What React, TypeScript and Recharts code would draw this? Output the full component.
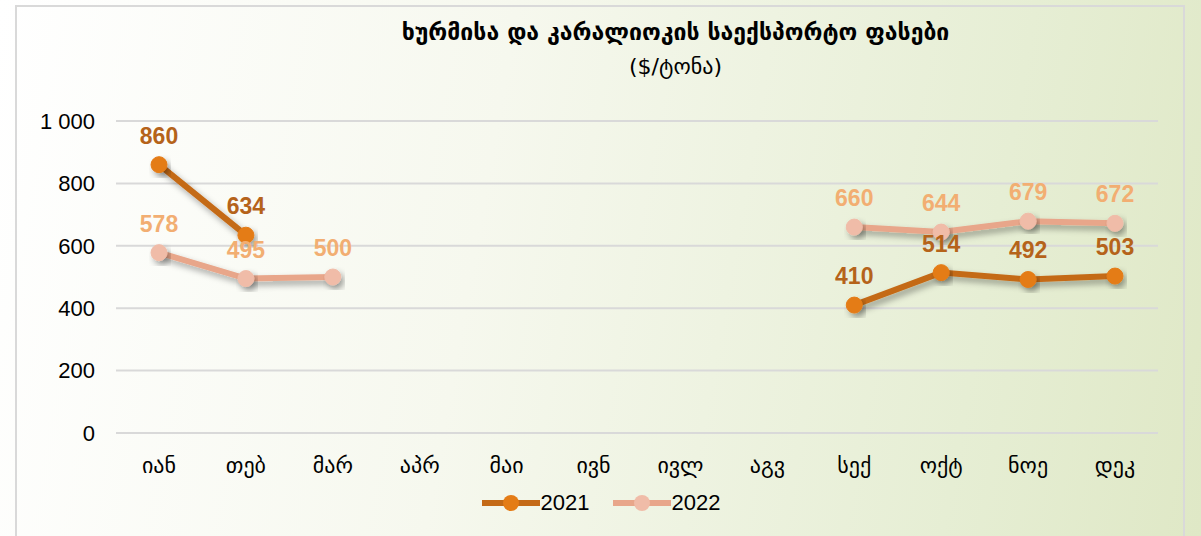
import {
  CartesianGrid,
  LabelList,
  Legend,
  Line,
  LineChart,
  XAxis,
  YAxis,
} from "recharts";

const months = ["იან", "თებ", "მარ", "აპრ", "მაი", "ივნ", "ივლ", "აგვ", "სექ", "ოქტ", "ნოე", "დეკ"];
const prices2021 = [860, 634, null, null, null, null, null, null, 410, 514, 492, 503];
const prices2022 = [578, 495, 500, null, null, null, null, null, 660, 644, 679, 672];
const yTicks = [0, 200, 400, 600, 800, 1000];

const data = months.map((m, i) => ({ month: m, y2021: prices2021[i], y2022: prices2022[i] }));

const C2021 = { line: "#c46a17", dot: "#e47c16", label: "#b5631a" };
const C2022 = { line: "#e8a68a", dot: "#f0bca8", label: "#f2ae72" };

const fmt = (v: number) => v.toLocaleString("en-US").replace(",", " ");

function LegendBox() {
  const item = (c: typeof C2021, name: string, gap: number) => (
    <div style={{ display: "flex", alignItems: "center", marginRight: gap }}>
      <svg width={60} height={20}>
        <line x1={1} y1={10} x2={59} y2={10} stroke={c.line} strokeWidth={6} />
        <circle cx={30} cy={10} r={8} fill={c.dot} />
      </svg>
      <span>{name}</span>
    </div>
  );
  return (
    <div
      style={{
        display: "flex",
        justifyContent: "center",
        fontFamily: "'Liberation Sans', Arial, sans-serif",
        fontSize: 22,
        color: "#000",
      }}
    >
      {item(C2021, "2021", 22)}
      {item(C2022, "2022", 0)}
    </div>
  );
}

const labelStyle = { fontSize: 23, fontWeight: "bold", fontFamily: "'Liberation Sans', Arial, sans-serif" };

export default function App() {
  return (
    <div
      style={{
        position: "absolute",
        left: 0,
        top: 0,
        width: 1201,
        height: 536,
        background: "linear-gradient(100deg, #ffffff 0%, #f6f8ee 40%, #e6eed4 80%, #dfe8c6 100%)",
        overflow: "hidden",
      }}
    >
      <svg width={0} height={0} style={{ position: "absolute" }}>
        <defs>
          <filter id="shadow" x="-10%" y="-10%" width="130%" height="140%">
            <feDropShadow dx={3} dy={4} stdDeviation={3} floodColor="#000" floodOpacity={0.35} />
          </filter>
        </defs>
      </svg>
      <div
        style={{
          position: "absolute",
          left: 15,
          top: 5,
          width: 1170,
          height: 560,
          border: "2px solid #d9d9d9",
          boxSizing: "border-box",
        }}
      />
      <div
        style={{
          position: "absolute",
          top: 19,
          left: 0,
          width: 1201,
          textAlign: "center",
          fontFamily: "'DejaVu Sans', sans-serif",
          color: "#000",
        }}
      >
        <div style={{ fontSize: 23, fontWeight: "bold", paddingLeft: 150 }}>
          ხურმისა და კარალიოკის საექსპორტო ფასები
        </div>
        <div style={{ fontSize: 22, marginTop: 9, paddingLeft: 150 }}>($/ტონა)</div>
      </div>
      <div style={{ position: "absolute", left: 0, top: 0 }}>
        <LineChart width={1201} height={536} data={data} margin={{ top: 121, right: 43, bottom: 40, left: 0 }}>
          <CartesianGrid vertical={false} stroke="#d9d9d9" strokeWidth={2} />
          <XAxis
            dataKey="month"
            axisLine={false}
            tickLine={false}
            padding={{ left: 43, right: 43 }}
            tickMargin={18}
            height={33}
            tick={{ fill: "#000", fontSize: 22, fontFamily: "'DejaVu Sans', sans-serif" }}
          />
          <YAxis
            domain={[0, 1000]}
            ticks={yTicks}
            width={116}
            axisLine={false}
            tickLine={false}
            tickMargin={15}
            tickFormatter={fmt}
            tick={{ fill: "#000", fontSize: 22, fontFamily: "'Liberation Sans', Arial, sans-serif" }}
          />
          <Legend
            verticalAlign="bottom"
            height={30}
            wrapperStyle={{ top: 490, bottom: "auto", left: 0, width: 1201 }}
            content={() => <LegendBox />}
          />
          <Line
            dataKey="y2021"
            name="2021"
            stroke={C2021.line}
            strokeWidth={6}
            filter="url(#shadow)"
            dot={{ r: 8, fill: C2021.dot, stroke: C2021.dot, strokeWidth: 1, filter: "url(#shadow)" }}
            activeDot={false}
            isAnimationActive={false}
          />
          <Line
            dataKey="y2022"
            name="2022"
            stroke={C2022.line}
            strokeWidth={6}
            filter="url(#shadow)"
            dot={{ r: 8, fill: C2022.dot, stroke: C2022.dot, strokeWidth: 1, filter: "url(#shadow)" }}
            activeDot={false}
            isAnimationActive={false}
          />
          <Line dataKey="y2021" stroke="none" dot={false} legendType="none" isAnimationActive={false}>
            <LabelList dataKey="y2021" position="top" offset={21} fill={C2021.label} style={labelStyle} />
          </Line>
          <Line dataKey="y2022" stroke="none" dot={false} legendType="none" isAnimationActive={false}>
            <LabelList dataKey="y2022" position="top" offset={21} fill={C2022.label} style={labelStyle} />
          </Line>
        </LineChart>
      </div>
    </div>
  );
}
